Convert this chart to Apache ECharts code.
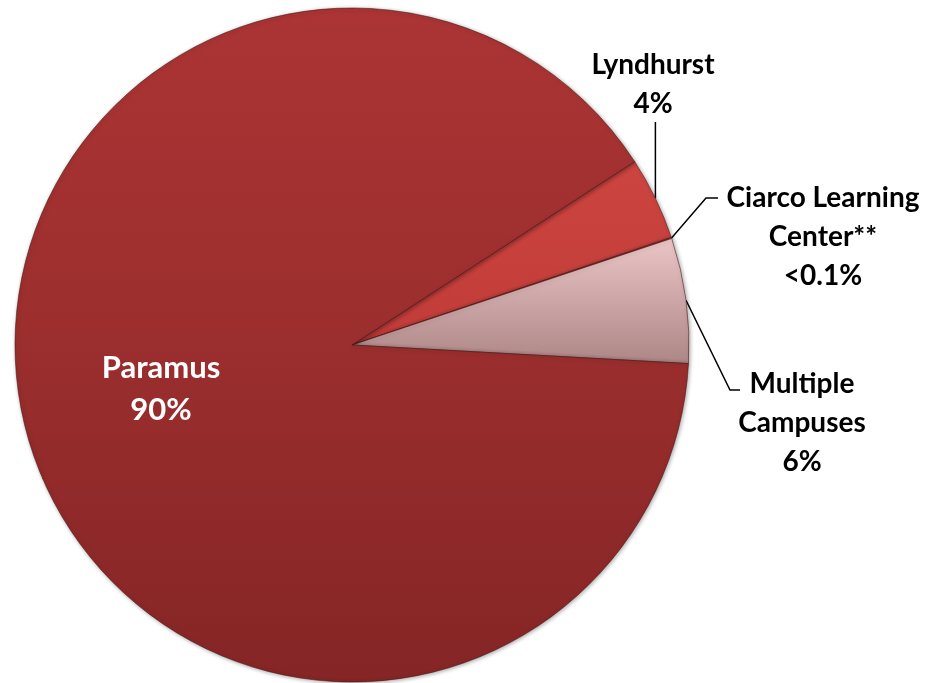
<!DOCTYPE html>
<html>
<head>
<meta charset="utf-8">
<script src="https://cdn.jsdelivr.net/npm/echarts@6/dist/echarts.min.js"></script>
<style>
  html, body { margin: 0; padding: 0; background: #fff; }
  #chart { width: 932px; height: 683px; }
</style>
</head>
<body>
<div id="chart"></div>
<script>
// slices, clockwise from the top edge of Lyndhurst
const names = ['Lyndhurst', 'Ciarco Learning\nCenter**', 'Multiple\nCampuses', 'Paramus'];
const values = [4, 0.05, 6, 90];
const pctLabels = ['4%', '<0.1%', '6%', '90%'];

const colors = [
  new echarts.graphic.LinearGradient(0, 0, 0, 1, [
    { offset: 0, color: '#cc4540' },
    { offset: 1, color: '#c13b38' }
  ]),
  '#c13b38',
  new echarts.graphic.LinearGradient(0, 0, 0, 1, [
    { offset: 0, color: '#ecc6c6' },
    { offset: 1, color: '#ad8686' }
  ]),
  new echarts.graphic.LinearGradient(0, 0, 0, 1, [
    { offset: 0, color: '#ac3434' },
    { offset: 0.5, color: '#9b2e2e' },
    { offset: 1, color: '#852525' }
  ])
];

const chart = echarts.init(document.getElementById('chart'), null, { renderer: 'canvas' });

const data = names.map((n, i) => ({
  name: n,
  value: values[i],
  itemStyle: { color: colors[i] },
  label: i === 3
    ? { position: 'inside', color: '#fff', fontSize: 31, lineHeight: 42 }
    : { position: 'outside', color: '#000' }
}));

chart.setOption({
  animation: false,
  series: [{
    type: 'pie',
    center: [352, 345],
    radius: 337,
    startAngle: 33,
    clockwise: true,
    avoidLabelOverlap: false,
    minAngle: 0,
    itemStyle: {
      borderColor: 'rgba(70,20,20,0.55)',
      borderWidth: 1,
      shadowColor: 'rgba(0,0,0,0.35)',
      shadowBlur: 4,
      shadowOffsetX: 1,
      shadowOffsetY: 1
    },
    label: {
      show: true,
      fontFamily: 'Lato',
      fontWeight: 'bold',
      fontSize: 28,
      lineHeight: 39,
      align: 'center',
      formatter: (p) => p.name + '\n' + pctLabels[p.dataIndex]
    },
    labelLine: {
      show: true,
      lineStyle: { color: '#000', width: 1.5 }
    },
    labelLayout: (p) => {
      const a = p.labelLinePoints ? p.labelLinePoints[0] : null;
      if (p.dataIndex === 0) {
        return { x: 653, y: 84, align: 'center', verticalAlign: 'middle',
          labelLinePoints: [a, [a[0], 122], [a[0], 122]] };
      }
      if (p.dataIndex === 1) {
        return { x: 823, y: 237, align: 'center', verticalAlign: 'middle',
          labelLinePoints: [a, [706, 198], [718, 198]] };
      }
      if (p.dataIndex === 2) {
        return { x: 802, y: 423, align: 'center', verticalAlign: 'middle',
          labelLinePoints: [a, [730, 390], [740, 390]] };
      }
      return { x: 161, y: 389, align: 'center', verticalAlign: 'middle' };
    },
    data: data
  }]
});
</script>
</body>
</html>
